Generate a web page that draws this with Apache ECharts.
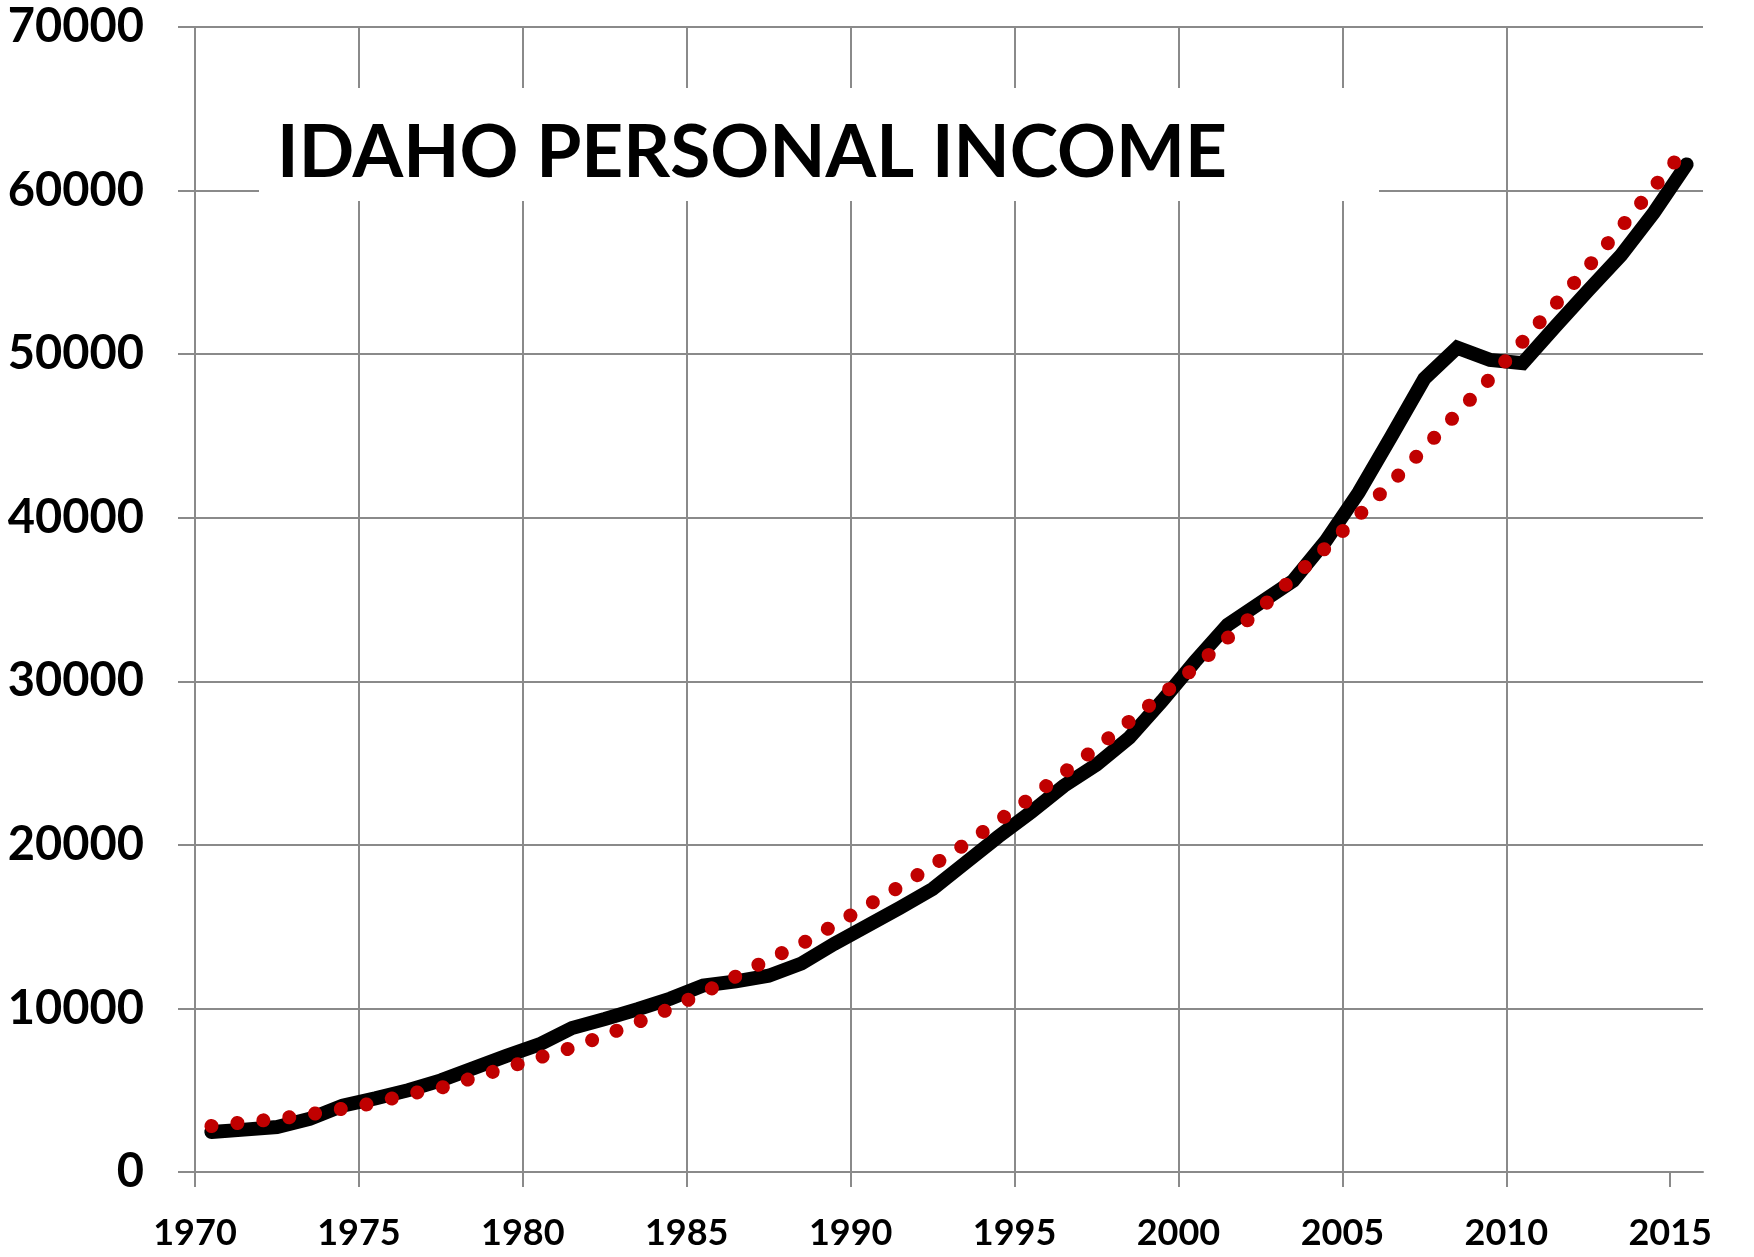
<!DOCTYPE html>
<html>
<head>
<meta charset="utf-8">
<title>Idaho Personal Income</title>
<script src="https://cdn.jsdelivr.net/npm/echarts@6.0.0/dist/echarts.min.js"></script>
<style>
  html, body { margin: 0; padding: 0; background: #fff; }
  #chart-container { width: 1754px; height: 1257px; }
</style>
</head>
<body>
<div id="chart-container"></div>
<script>
// ---- data (plotted at mid-year) ----
var years = [1970, 1971, 1972, 1973, 1974, 1975, 1976, 1977, 1978, 1979,
             1980, 1981, 1982, 1983, 1984, 1985, 1986, 1987, 1988, 1989,
             1990, 1991, 1992, 1993, 1994, 1995, 1996, 1997, 1998, 1999,
             2000, 2001, 2002, 2003, 2004, 2005, 2006, 2007, 2008, 2009,
             2010, 2011, 2012, 2013, 2014, 2015];

// personal income (black line)
var income = [2450, 2590, 2750, 3250, 4050, 4500, 5000, 5600, 6350, 7100,
              7800, 8800, 9350, 9950, 10600, 11400, 11650, 12000, 12750, 13950,
              15050, 16150, 17300, 18900, 20500, 22000, 23600, 24900, 26550, 28800,
              31200, 33450, 34800, 36150, 38600, 41550, 45000, 48500, 50400, 49650,
              49450, 51700, 53900, 56050, 58650, 61600];

// trend (red dotted line)
var trend = [2810, 3040, 3240, 3520, 3870, 4230, 4750, 5150, 5760, 6380,
             7000, 7600, 8350, 9150, 10000, 10960, 11960, 13000, 13950, 15100,
             16280, 17450, 18750, 20050, 21450, 22890, 24400, 25930, 27550, 29150,
             30850, 32650, 34440, 36330, 38180, 40150, 42150, 44250, 46380, 48500,
             50770, 53050, 55350, 57750, 60200, 62640];

var yearTicks = [1970, 1975, 1980, 1985, 1990, 1995, 2000, 2005, 2010, 2015];
var valueTicks = [0, 10000, 20000, 30000, 40000, 50000, 60000, 70000];

var chartTitle = 'IDAHO PERSONAL INCOME';

// ---- chart ----
var gridGray = '#8a8a8a';
var labelFont = 'Lato';

function midYear(list) {
  return years.map(function (y, i) { return [y + 0.5, list[i]]; });
}

var dom = document.getElementById('chart-container');
var myChart = echarts.init(dom, null, { renderer: 'canvas' });

var option = {
  animation: false,
  backgroundColor: '#ffffff',
  grid: {
    left: 195,
    right: 51,
    top: 27,
    bottom: 85
  },
  xAxis: {
    type: 'value',
    min: yearTicks[0],
    max: years[years.length - 1] + 1,
    interval: 5,
    axisLine: { show: true, lineStyle: { color: gridGray, width: 2 } },
    axisTick: {
      show: true,
      length: 15,
      customValues: yearTicks,
      lineStyle: { color: gridGray, width: 2 }
    },
    splitLine: {
      show: true,
      showMaxLine: false,
      lineStyle: { color: gridGray, width: 2 }
    },
    axisLabel: {
      customValues: yearTicks,
      margin: 43,
      color: '#000',
      fontFamily: labelFont,
      fontWeight: 'bold',
      fontSize: 36,
      formatter: function (v) { return String(v); }
    }
  },
  yAxis: {
    type: 'value',
    min: valueTicks[0],
    max: valueTicks[valueTicks.length - 1],
    interval: 10000,
    axisLine: { show: true, lineStyle: { color: gridGray, width: 2 } },
    axisTick: { show: true, length: 17, lineStyle: { color: gridGray, width: 2 } },
    splitLine: { show: true, lineStyle: { color: gridGray, width: 2 } },
    axisLabel: {
      margin: 51,
      color: '#000',
      fontFamily: labelFont,
      fontWeight: 'bold',
      fontSize: 47,
      formatter: function (v) { return String(v); }
    }
  },
  graphic: [
    {
      type: 'rect',
      left: 259,
      top: 88,
      z: 100,
      shape: { width: 1120, height: 113 },
      style: { fill: '#ffffff' }
    },
    {
      type: 'text',
      left: 277,
      top: 117,
      z: 101,
      style: {
        text: chartTitle,
        font: 'bold 73px Lato',
        fill: '#000000'
      }
    }
  ],
  series: [
    {
      name: 'Personal income',
      type: 'line',
      data: midYear(income),
      symbol: 'none',
      z: 3,
      lineStyle: { color: '#000000', width: 14, cap: 'round', join: 'miter' }
    },
    {
      name: 'Trend',
      type: 'line',
      data: midYear(trend),
      symbol: 'none',
      z: 4,
      lineStyle: { color: '#C00000', width: 14, type: [0.1, 26], cap: 'round' }
    }
  ]
};

myChart.setOption(option);
window.addEventListener('resize', myChart.resize);
</script>
</body>
</html>
